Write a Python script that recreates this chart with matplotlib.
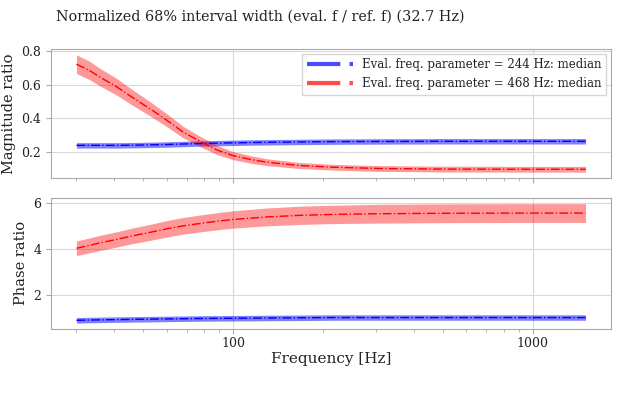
import matplotlib

matplotlib.use("Agg")
import matplotlib.pyplot as plt
import numpy as np
from matplotlib.lines import Line2D

FREQ = [30, 33, 36, 41, 46, 53, 60, 68, 78, 88, 100, 115, 129, 167, 215, 300, 500, 1000, 1500]

# Magnitude ratio (median, 68% band half-width)
MAG_244_MED = [0.241, 0.241, 0.241, 0.241, 0.242, 0.244, 0.246, 0.249, 0.252, 0.254, 0.256, 0.258,
               0.259, 0.261, 0.263, 0.264, 0.265, 0.265, 0.265]
MAG_244_HW = [0.016] * 19
MAG_468_MED = [0.720, 0.685, 0.643, 0.585, 0.525, 0.455, 0.390, 0.320, 0.262, 0.215, 0.180, 0.157,
               0.142, 0.122, 0.112, 0.105, 0.101, 0.100, 0.100]
MAG_468_HW = [0.055, 0.054, 0.052, 0.049, 0.046, 0.042, 0.038, 0.034, 0.030, 0.027, 0.024, 0.022,
              0.020, 0.018, 0.017, 0.017, 0.017, 0.017, 0.017]

# Phase ratio (median, 68% band half-width)
PH_244_MED = [0.88, 0.89, 0.90, 0.91, 0.92, 0.93, 0.94, 0.95, 0.96, 0.965, 0.97, 0.975,
              0.98, 0.99, 1.00, 1.00, 1.00, 1.00, 1.00]
PH_244_HW = [0.12] * 19
PH_468_MED = [4.03, 4.15, 4.27, 4.42, 4.57, 4.73, 4.88, 5.01, 5.12, 5.21, 5.29, 5.35,
              5.40, 5.47, 5.51, 5.54, 5.56, 5.57, 5.57]
PH_468_HW = [0.32, 0.325, 0.33, 0.335, 0.34, 0.35, 0.36, 0.365, 0.37, 0.375, 0.38, 0.385,
             0.39, 0.40, 0.40, 0.41, 0.41, 0.41, 0.41]

SERIES = [
    ("Eval. freq. parameter = 244 Hz: median", "blue", MAG_244_MED, MAG_244_HW, PH_244_MED, PH_244_HW),
    ("Eval. freq. parameter = 468 Hz: median", "red", MAG_468_MED, MAG_468_HW, PH_468_MED, PH_468_HW),
]

TEXT = "#222222"
SPINE = "#aaaaaa"
GRID = "#d8d8d8"

plt.rcParams["font.family"] = ["DejaVu Serif"]

fig = plt.figure(figsize=(6.19, 4.04), dpi=100)
ax_mag = fig.add_axes([0.0824, 0.5594, 0.9047, 0.3193])
ax_ph = fig.add_axes([0.0824, 0.1856, 0.9047, 0.3250], sharex=ax_mag)

freq = np.array(FREQ, dtype=float)
handles = []
for label, color, m_med, m_hw, p_med, p_hw in SERIES:
    m_med = np.array(m_med)
    m_hw = np.array(m_hw)
    p_med = np.array(p_med)
    p_hw = np.array(p_hw)
    fill_alpha = 0.4 if color == "red" else 0.5
    ax_mag.fill_between(freq, m_med - m_hw, m_med + m_hw, color=color, alpha=fill_alpha, lw=0)
    ax_mag.plot(freq, m_med, color=color, lw=1.0, ls="-.")
    ax_ph.fill_between(freq, p_med - p_hw, p_med + p_hw, color=color, alpha=fill_alpha, lw=0)
    ax_ph.plot(freq, p_med, color=color, lw=1.0, ls="-.")
    handles.append(Line2D([], [], color=color, alpha=0.7, lw=3.0,
                          ls=(0, (8, 2.2, 1, 2.2)), label=label))

ax_mag.set_xscale("log")
ax_mag.set_yticks([0.2, 0.4, 0.6, 0.8])
ax_ph.set_yticks([2, 4, 6])
ax_mag.tick_params(labelbottom=False)

for ax in (ax_mag, ax_ph):
    ax.grid(True, which="major", color=GRID, linewidth=0.8)
    ax.set_axisbelow(True)
    for spine in ax.spines.values():
        spine.set_color(SPINE)
    ax.tick_params(which="both", colors=SPINE, labelcolor=TEXT, labelsize=9)

ax_mag.set_ylabel("Magnitude ratio", fontsize=10.5, color=TEXT)
ax_ph.set_ylabel("Phase ratio", fontsize=10.5, color=TEXT)
ax_ph.set_xlabel("Frequency [Hz]", fontsize=11, color=TEXT, labelpad=1)
ax_ph.xaxis.set_major_formatter(matplotlib.ticker.FuncFormatter(lambda v, p: f"{v:g}"))
ax_ph.tick_params(axis="x", pad=2.5)

ax_mag.legend(handles=handles, loc="upper right", fontsize=8.5, handlelength=3.9,
              framealpha=0.8, edgecolor="#cccccc", fancybox=False,
              labelcolor=TEXT, borderaxespad=0.4)

fig.suptitle("Normalized 68% interval width (eval. f / ref. f) (32.7 Hz)",
             fontsize=10.4, color=TEXT, x=0.42, y=0.975)

fig.savefig("out.png", dpi=100, facecolor="white")
